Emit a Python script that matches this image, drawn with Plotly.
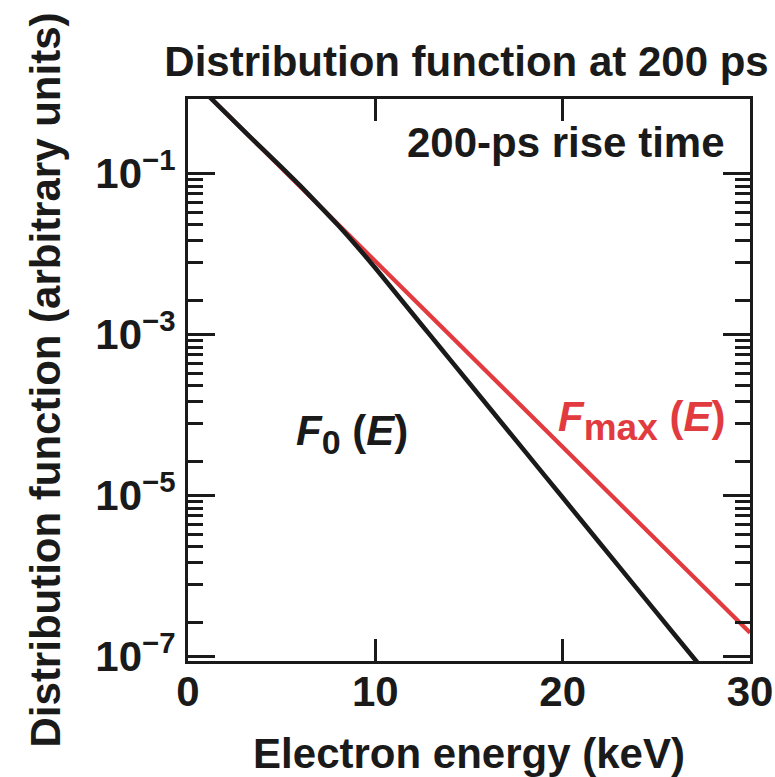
import plotly.graph_objects as go

# ---- data ----
energy_f0 = [1.0, 3, 5, 6, 7, 8, 9, 10, 11, 12, 13, 14, 16, 18, 20, 22, 24, 26, 27.2]
f0_values = [0.955, 0.331, 0.1175, 0.0692, 0.0398, 0.02265, 0.01245, 6.61e-3, 3.43e-3,
             1.78e-3, 9.23e-4, 4.79e-4, 1.29e-4, 3.47e-5, 9.33e-6, 2.51e-6, 6.76e-7,
             1.82e-7, 8.3e-8]

energy_fmax = [1.0, 5, 10, 15, 20, 25, 30]
fmax_values = [0.96, 0.115, 8.1e-3, 5.6e-4, 4.0e-5, 2.75e-6, 1.95e-7]

x_tickvals = [0, 10, 20, 30]
x_ticktext = ["0", "10", "20", "30"]
y_tickvals = [1e-1, 1e-3, 1e-5, 1e-7]
y_ticktext = ["10<sup>\u22121</sup>", "10<sup>\u22123</sup>", "10<sup>\u22125</sup>", "10<sup>\u22127</sup>"]
minor_multipliers = [0.836, 0.689, 0.555, 0.432, 0.325, 0.228, 0.146, 0.0771, 0.0259]
minor_decades = [1e-1, 1e-3, 1e-5]
y_minor_vals = [m * d for d in minor_decades for m in minor_multipliers]

BLACK = "#1a1a1a"
RED = "#e23b3f"
FONT = "Liberation Sans"

fig = go.Figure()
fig.add_trace(go.Scatter(x=energy_fmax, y=fmax_values, mode="lines",
                         line=dict(color=RED, width=4.2), name="Fmax(E)",
                         showlegend=False))
fig.add_trace(go.Scatter(x=energy_f0, y=f0_values, mode="lines",
                         line=dict(color=BLACK, width=4.6, shape="spline", smoothing=0.6),
                         name="F0(E)", showlegend=False))

axis_common = dict(showline=True, linewidth=3, linecolor=BLACK, mirror="ticks",
                   ticks="inside", tickcolor=BLACK, tickwidth=2.5, showgrid=False,
                   zeroline=False)

fig.update_xaxes(range=[0, 30], tickmode="array", tickvals=x_tickvals, ticktext=x_ticktext,
                 ticklen=22, ticklabelstandoff=-8,
                 title=dict(text="Electron energy (keV)", standoff=30,
                            font=dict(size=42, family=FONT, color=BLACK, weight="bold")),
                 **axis_common)
fig.update_yaxes(type="log", range=[-7.06, -0.08], tickmode="array",
                 tickvals=y_tickvals, ticktext=y_ticktext, ticklen=27,
                 ticklabelstandoff=1,
                 minor=dict(tickmode="array", tickvals=y_minor_vals, ticks="inside",
                            ticklen=15, tickwidth=2.5, tickcolor=BLACK),
                 title=dict(text="Distribution function (arbitrary units)", standoff=22,
                            font=dict(size=42, family=FONT, color=BLACK, weight="bold")),
                 **axis_common)

SUB = "<span style='font-size:{}px'>{}</span>"
fig.add_annotation(text="200-ps rise time", x=20.18, xref="x", y=0.9228, yref="paper",
                   showarrow=False, xanchor="center", yanchor="middle",
                   font=dict(size=42, family=FONT, color=BLACK, weight="bold"))
fig.add_annotation(text="<i>F</i><sub>" + SUB.format(34, "0") + "</sub> (<i>E</i>)",
                   x=8.76, xref="x", y=0.4048, yref="paper",
                   showarrow=False, xanchor="center", yanchor="middle",
                   font=dict(size=42, family=FONT, color=BLACK, weight="bold"))
fig.add_annotation(text="<i>F</i><sub>" + SUB.format(37, "max") + "</sub> (<i>E</i>)",
                   x=24.2, xref="x", y=0.4279, yref="paper",
                   showarrow=False, xanchor="center", yanchor="middle",
                   font=dict(size=42, family=FONT, color=RED, weight="bold"))

fig.update_layout(
    width=775, height=777,
    margin=dict(l=188, r=25, t=99, b=116, autoexpand=False),
    paper_bgcolor="white", plot_bgcolor="white",
    font=dict(family=FONT, size=42, color=BLACK, weight="bold"),
    title=dict(text="Distribution function at 200 ps", x=466.5 / 775, xref="container",
               xanchor="center", y=1 - 47 / 777, yref="container", yanchor="top",
               font=dict(size=42, family=FONT, color=BLACK, weight="bold")),
    showlegend=False,
)

fig.write_html("out.html")
